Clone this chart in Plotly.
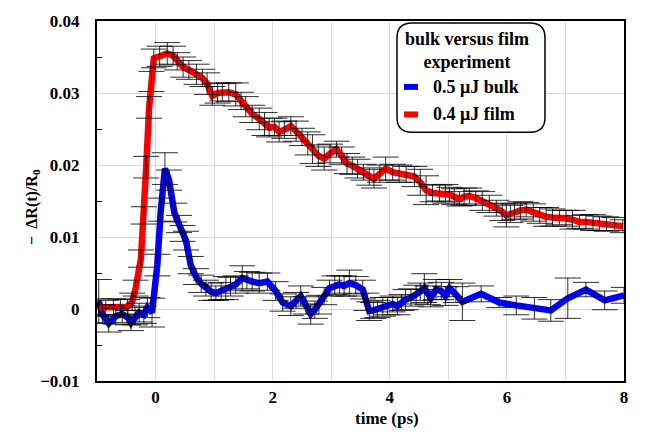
import plotly.graph_objects as go

# ---- film (0.4 uJ) ----
film_t = [
    -0.97, -0.85, -0.72, -0.6, -0.48, -0.4, -0.34, -0.25, -0.2, -0.16,
    -0.11, -0.07, -0.03, 0.07, 0.2, 0.3, 0.37, 0.47, 0.57, 0.7,
    0.8, 0.88, 0.97, 1.06, 1.14, 1.25, 1.37, 1.46, 1.54, 1.65,
    1.77, 1.86, 1.94, 2.03, 2.11, 2.2, 2.31, 2.4, 2.5, 2.6,
    2.68, 2.78, 2.88, 2.98, 3.09, 3.18, 3.27, 3.36, 3.45, 3.55,
    3.65, 3.73, 3.83, 3.93, 4.05, 4.16, 4.28, 4.42, 4.52, 4.62,
    4.73, 4.85, 4.95, 5.02, 5.1, 5.19, 5.27, 5.36, 5.47, 5.58,
    5.7, 5.82, 5.92, 5.99, 6.06, 6.13, 6.23, 6.33, 6.45, 6.56,
    6.67, 6.78, 6.9, 7.01, 7.12, 7.24, 7.35, 7.47, 7.58, 7.7,
    7.84, 7.98,
]
film_dr = [
    0.0002, 0.0002, 0.0003, 0.0002, 0.0003, 0.0010, 0.0029, 0.0070, 0.0130, 0.0197,
    0.0280, 0.0316, 0.0348, 0.0351, 0.0355, 0.0352, 0.0344, 0.0336, 0.0332, 0.0326,
    0.0321, 0.0313, 0.0296, 0.0300, 0.0301, 0.0301, 0.0298, 0.0289, 0.0281, 0.0271,
    0.0264, 0.0257, 0.0252, 0.0253, 0.0246, 0.0249, 0.0254, 0.0247, 0.0239, 0.0230,
    0.0222, 0.0213, 0.0209, 0.0216, 0.0222, 0.0213, 0.0202, 0.0199, 0.0195, 0.0190,
    0.0184, 0.0181, 0.0188, 0.0195, 0.0190, 0.0188, 0.0187, 0.0184, 0.0176, 0.0165,
    0.0161, 0.0161, 0.0160, 0.0159, 0.0156, 0.0153, 0.0156, 0.0157, 0.0154, 0.0150,
    0.0146, 0.0140, 0.0135, 0.0130, 0.0132, 0.0135, 0.0137, 0.0138, 0.0134, 0.0130,
    0.0128, 0.0127, 0.0127, 0.0126, 0.0124, 0.0121, 0.0121, 0.0120, 0.0119, 0.0118,
    0.0118, 0.0115,
]
film_err = [
    0.0012, 0.0010, 0.0011, 0.0012, 0.0010, 0.0012, 0.0011, 0.0012, 0.0012, 0.0015,
    0.0015, 0.0014, 0.0013, 0.0014, 0.0015, 0.0013, 0.0012, 0.0014, 0.0013, 0.0014,
    0.0012, 0.0015, 0.0013, 0.0014, 0.0012, 0.0013, 0.0016, 0.0012, 0.0014, 0.0012,
    0.0015, 0.0016, 0.0013, 0.0012, 0.0014, 0.0012, 0.0013, 0.0014, 0.0012, 0.0016,
    0.0020, 0.0015, 0.0016, 0.0013, 0.0011, 0.0012, 0.0014, 0.0012, 0.0013, 0.0011,
    0.0012, 0.0013, 0.0012, 0.0016, 0.0011, 0.0012, 0.0011, 0.0014, 0.0018, 0.0020,
    0.0012, 0.0011, 0.0013, 0.0010, 0.0011, 0.0010, 0.0012, 0.0011, 0.0010, 0.0013,
    0.0012, 0.0011, 0.0012, 0.0016, 0.0012, 0.0011, 0.0012, 0.0010, 0.0012, 0.0011,
    0.0013, 0.0012, 0.0010, 0.0011, 0.0013, 0.0009, 0.0010, 0.0011, 0.0010, 0.0010,
    0.0009, 0.0009,
]

# ---- bulk (0.5 uJ) ----
bulk_t = [
    -0.97, -0.91, -0.8, -0.68, -0.57, -0.47, -0.42, -0.35, -0.28, -0.2,
    -0.14, -0.06, 0.03, 0.09, 0.16, 0.23, 0.32, 0.4, 0.46, 0.52,
    0.6, 0.69, 0.78, 0.86, 0.95, 1.03, 1.12, 1.2, 1.28, 1.37,
    1.48, 1.56, 1.65, 1.77, 1.91, 2.05, 2.17, 2.31, 2.4, 2.48,
    2.57, 2.65, 2.72, 2.79, 2.88, 2.97, 3.06, 3.14, 3.22, 3.31,
    3.42, 3.54, 3.6, 3.65, 3.72, 3.79, 3.88, 3.96, 4.05, 4.13,
    4.2, 4.27, 4.36, 4.45, 4.52, 4.59, 4.65, 4.7, 4.79, 4.88,
    4.95, 5.02, 5.13, 5.24, 5.56, 5.87, 6.16, 6.47, 6.75, 7.04,
    7.35, 7.67, 8.0,
]
bulk_dr = [
    0.0011, -0.0007, -0.0020, -0.0010, -0.0007, -0.0012, -0.0019, -0.0010, -0.0005, -0.0008,
    0.0002, -0.0005, 0.0061, 0.0138, 0.0195, 0.0179, 0.0134, 0.0118, 0.0105, 0.0095,
    0.0061, 0.0045, 0.0035, 0.0029, 0.0024, 0.0022, 0.0025, 0.0029, 0.0031, 0.0034,
    0.0043, 0.0040, 0.0038, 0.0036, 0.0038, 0.0025, 0.0009, 0.0004, 0.0012, 0.0018,
    0.0005, -0.0007, -0.0001, 0.0006, 0.0018, 0.0029, 0.0033, 0.0034, 0.0032, 0.0036,
    0.0033, 0.0027, 0.0010, -0.0003, -0.0002, 0.0000, 0.0003, 0.0004, 0.0007, 0.0004,
    0.0009, 0.0013, 0.0016, 0.0020, 0.0024, 0.0029, 0.0019, 0.0015, 0.0027, 0.0025,
    0.0018, 0.0029, 0.0020, 0.0010, 0.0021, 0.0009, 0.0005, 0.0001, -0.0002, 0.0015,
    0.0027, 0.0012, 0.0019,
]
bulk_err = [
    0.0030, 0.0013, 0.0012, 0.0011, 0.0012, 0.0010, 0.0011, 0.0012, 0.0013, 0.0012,
    0.0014, 0.0020, 0.0015, 0.0016, 0.0022, 0.0014, 0.0013, 0.0012, 0.0011, 0.0013,
    0.0012, 0.0011, 0.0012, 0.0011, 0.0012, 0.0010, 0.0012, 0.0016, 0.0013, 0.0012,
    0.0017, 0.0012, 0.0013, 0.0014, 0.0012, 0.0013, 0.0012, 0.0013, 0.0011, 0.0014,
    0.0012, 0.0014, 0.0012, 0.0013, 0.0012, 0.0011, 0.0013, 0.0012, 0.0014, 0.0018,
    0.0012, 0.0013, 0.0012, 0.0013, 0.0011, 0.0012, 0.0013, 0.0012, 0.0011, 0.0012,
    0.0011, 0.0014, 0.0012, 0.0013, 0.0012, 0.0020, 0.0013, 0.0012, 0.0014, 0.0012,
    0.0013, 0.0012, 0.0011, 0.0026, 0.0011, 0.0007, 0.0013, 0.0015, 0.0015, 0.0028,
    0.0010, 0.0013, 0.0011,
]

legend_title = "bulk versus film<br>experiment"
bulk_name = "0.5 \u03bcJ bulk"
film_name = "0.4 \u03bcJ film"
x_title = "time (ps)"
y_title = "\u2212  \u0394R(t)/R<sub>0</sub>"

FONT = "Liberation Serif"
BLUE = "#0000ff"
RED = "#ff0000"

fig = go.Figure()

# thick data curves
fig.add_trace(go.Scatter(x=bulk_t, y=bulk_dr, mode="lines", name=bulk_name,
                         line=dict(color=BLUE, width=6.5), showlegend=False))
fig.add_trace(go.Scatter(x=film_t, y=film_dr, mode="lines", name=film_name,
                         line=dict(color=RED, width=6.5), showlegend=False))

# error bars drawn on top of the curves
for t, v, e in ((bulk_t, bulk_dr, bulk_err), (film_t, film_dr, film_err)):
    fig.add_trace(go.Scatter(
        x=t, y=v, mode="markers", marker=dict(size=2, opacity=0),
        error_y=dict(type="data", array=e, visible=True, color="rgba(0,0,0,0.82)",
                     thickness=1, width=13),
        showlegend=False, hoverinfo="skip", cliponaxis=False))

# plot-area geometry (pixels) used for the legend box and titles
L, R, T, B = 97, 624, 15, 381
W, H = R - L, B - T


def px(x):
    return (x - L) / W


def py(y):
    return (B - y) / H


x0, x1 = px(397), px(545)
y0, y1 = py(128), py(17)
rx, ry = 15 / W, 15 / H
box = (f"M{x0+rx},{y1} L{x1-rx},{y1} Q{x1},{y1} {x1},{y1-ry} "
       f"L{x1},{y0+ry} Q{x1},{y0} {x1-rx},{y0} L{x0+rx},{y0} "
       f"Q{x0},{y0} {x0},{y0+ry} L{x0},{y1-ry} Q{x0},{y1} {x0+rx},{y1} Z")

shapes = [
    dict(type="path", xref="paper", yref="paper", path=box, layer="above",
         fillcolor="white", line=dict(color="black", width=1.5)),
    dict(type="line", xref="paper", yref="paper", layer="above",
         x0=px(404), x1=px(418), y0=py(82), y1=py(82),
         line=dict(color=BLUE, width=6)),
    dict(type="line", xref="paper", yref="paper", layer="above",
         x0=px(404), x1=px(418), y0=py(110), y1=py(110),
         line=dict(color=RED, width=6)),
]

tfont = dict(family=FONT, size=18, color="black", weight="bold")
annotations = [
    dict(text=legend_title, xref="paper", yref="paper", x=px(467), y=py(45),
         xanchor="center", yanchor="middle", showarrow=False, font=tfont,
         align="center"),
    dict(text=bulk_name, xref="paper", yref="paper", x=px(431), y=py(82),
         xanchor="left", yanchor="middle", showarrow=False, font=tfont),
    dict(text=film_name, xref="paper", yref="paper", x=px(431), y=py(110),
         xanchor="left", yanchor="middle", showarrow=False, font=tfont),
    dict(text=y_title, xref="paper", yref="paper",
         x=px(33), y=py(204), xanchor="center", yanchor="middle",
         textangle=-90, showarrow=False,
         font=dict(family=FONT, size=16, color="black", weight="bold")),
    dict(text=x_title, xref="paper", yref="paper",
         x=px(387), y=py(419), xanchor="center", yanchor="middle",
         showarrow=False,
         font=dict(family=FONT, size=17, color="black", weight="bold")),
]

fig.update_layout(
    width=649, height=432,
    margin=dict(l=L, r=649 - R, t=T, b=432 - B),
    paper_bgcolor="white", plot_bgcolor="white",
    font=dict(family=FONT, color="black"),
    shapes=shapes, annotations=annotations,
    showlegend=False,
)

fig.update_xaxes(
    range=[-1, 8], dtick=2, tick0=0, showgrid=True, gridcolor="#d9d9d9", gridwidth=1,
    minor=dict(dtick=1, tick0=0, showgrid=True, gridcolor="#d9d9d9", gridwidth=1),
    ticks="", zeroline=False, showline=True, linecolor="black", linewidth=2,
    mirror=True, tickfont=dict(family=FONT, size=17, weight="bold"),
    ticklabelstandoff=0,
)
fig.update_yaxes(
    range=[-0.01, 0.04], dtick=0.01, tick0=0, showgrid=True, gridcolor="#d9d9d9",
    gridwidth=1, ticks="",
    minor=dict(dtick=0.005, tick0=0, ticks="inside", ticklen=5, tickcolor="black",
               showgrid=False),
    zeroline=False, showline=True, linecolor="black", linewidth=2, mirror=True,
    tickfont=dict(family=FONT, size=17, weight="bold"), ticklabelstandoff=12,
)

fig.write_html("out.html")
